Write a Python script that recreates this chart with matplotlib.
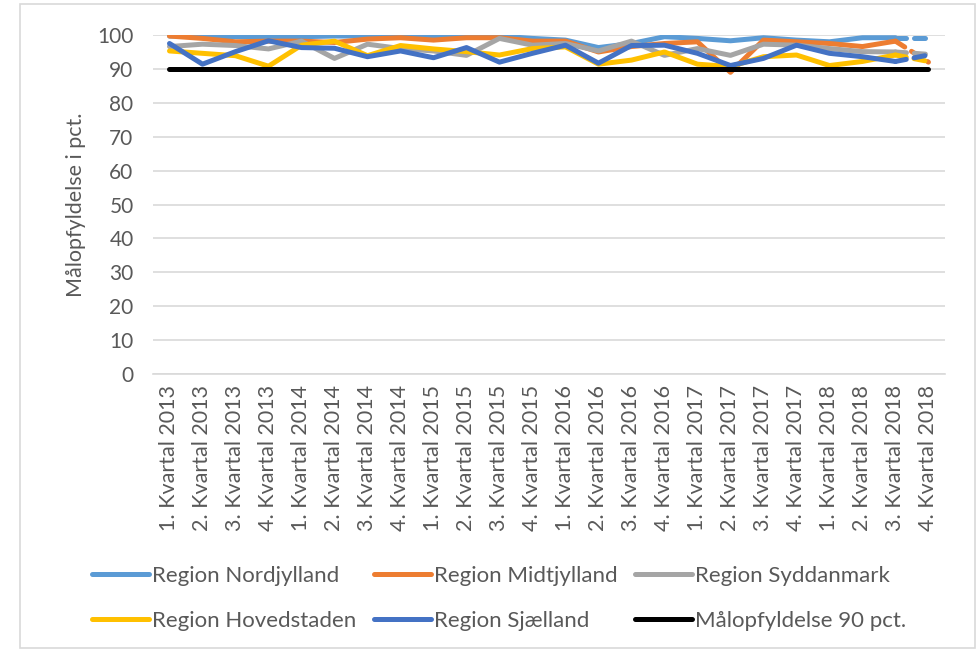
import matplotlib.pyplot as plt
from matplotlib.patches import Rectangle

# quarters 2013-2018
years = [2013, 2014, 2015, 2016, 2017, 2018]
quarter_labels = [f"{q}. Kvartal {y}" for y in years for q in (1, 2, 3, 4)]

nordjylland = [99.7, 99.7, 99.5, 99.5, 99.5, 99.7, 99.7, 99.7, 99.5, 99.7, 99.7, 99.0,
               98.5, 96.3, 97.5, 99.5, 99.0, 98.3, 99.2, 98.5, 98.0, 99.2, 99.2, 99.2]
midtjylland = [99.7, 99.0, 98.0, 98.2, 98.2, 97.8, 98.8, 99.2, 98.5, 99.2, 99.2, 98.2,
               98.2, 95.0, 96.6, 97.5, 98.0, 89.0, 98.5, 98.0, 97.5, 96.6, 98.2, 92.0]
syddanmark = [96.6, 97.3, 96.9, 95.9, 98.2, 93.1, 97.3, 96.0, 95.3, 94.0, 99.0, 97.0,
              97.5, 95.3, 98.2, 94.0, 96.0, 94.0, 97.3, 97.0, 96.0, 95.1, 95.0, 94.3]
hovedstaden = [95.3, 94.6, 93.9, 90.8, 97.0, 98.2, 93.9, 96.9, 95.9, 95.1, 94.1, 96.0,
               96.5, 91.4, 92.6, 95.0, 91.4, 90.7, 93.6, 94.1, 91.0, 92.2, 94.1, 92.2]
sjaelland = [97.5, 91.4, 95.1, 98.3, 96.3, 96.1, 93.6, 95.3, 93.3, 96.3, 92.0, 94.6,
             97.0, 91.7, 96.9, 97.0, 94.6, 91.0, 93.1, 97.0, 94.6, 93.6, 92.2, 94.1]
maal = [90] * 24

series = [
    ("Region Nordjylland", nordjylland, "#5B9BD5"),
    ("Region Midtjylland", midtjylland, "#ED7D31"),
    ("Region Syddanmark", syddanmark, "#A5A5A5"),
    ("Region Hovedstaden", hovedstaden, "#FFC000"),
    ("Region Sjælland", sjaelland, "#4472C4"),
]

plt.rcParams['font.family'] = ['Lato', 'DejaVu Sans']
txt = "#595959"

fig = plt.figure(figsize=(9.77, 6.51), dpi=100)
ax = fig.add_axes([0.1566, 0.4255, 0.8106, 0.5207])

x = list(range(len(quarter_labels)))
lw = 3.6
handles = []
for name, vals, col in series:
    h, = ax.plot(x[:-1], vals[:-1], color=col, lw=lw, solid_capstyle="round",
                 solid_joinstyle="round", label=name)
    handles.append(h)
    # last quarter is drawn dashed
    ax.plot(x[-2:], vals[-2:], color=col, lw=lw, ls=(0, (2.2, 1.6)),
            dash_capstyle="round")
h, = ax.plot(x, maal, color="black", lw=lw, solid_capstyle="round",
             label="Målopfyldelse 90 pct.")
handles.append(h)

ax.set_xlim(-0.5, len(x) - 0.5)
ax.set_ylim(0, 100)
ax.set_yticks(range(0, 101, 10))
ax.set_xticks(x)
ax.set_xticklabels(quarter_labels, rotation=90, fontsize=15.5, color=txt)
ax.tick_params(axis="y", labelsize=15, labelcolor=txt, length=0, pad=14)
ax.tick_params(axis="x", length=0, pad=8)
ax.grid(axis="y", color="#D9D9D9", lw=1.2)
ax.set_axisbelow(True)
for s in ["top", "right", "left"]:
    ax.spines[s].set_visible(False)
ax.spines["bottom"].set_color("#D9D9D9")
ax.spines["bottom"].set_linewidth(1.2)
ax.set_ylabel("Målopfyldelse i pct.", fontsize=15.5, color=txt, labelpad=8)

# legend filled row by row, like the original
order = [0, 3, 1, 4, 2, 5]
fig.legend([handles[i] for i in order], [handles[i].get_label() for i in order],
           loc="upper left", bbox_to_anchor=(0.094, 0.131), ncol=3,
           frameon=False, fontsize=16, handlelength=2.55, handletextpad=0.15,
           columnspacing=0.8, labelspacing=1.15, labelcolor=txt,
           borderaxespad=0, borderpad=0)

fig.patches.append(Rectangle((20 / 977, 0.004), 1 - 22 / 977, 0.99,
                             transform=fig.transFigure, fill=False,
                             edgecolor="#D9D9D9", lw=1.2))

fig.savefig("out.png", dpi=100)
